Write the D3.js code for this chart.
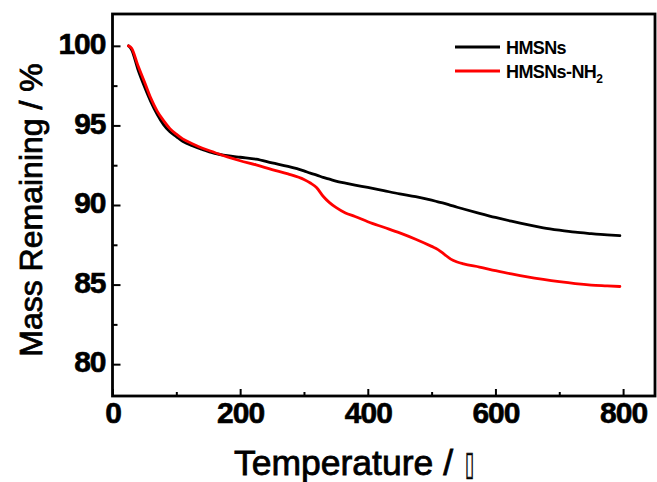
<!DOCTYPE html>
<html>
<head>
<meta charset="utf-8">
<script src="https://cdn.jsdelivr.net/npm/d3@7"></script>
<style>
  html, body { margin: 0; padding: 0; background: #fff; }
  svg { display: block; }
  text { font-family: "Liberation Sans", Arial, sans-serif; }
</style>
</head>
<body>
<svg id="chart" width="657" height="482"></svg>
<script>
// ---- data ----
const temperature = [25, 30, 40, 50, 60, 70, 80, 90, 100, 110, 125, 140, 160, 180, 200, 225, 250, 275, 300, 310, 320, 330, 340, 350, 365, 380, 400, 425, 450, 475, 500, 510, 520, 530, 540, 550, 575, 600, 625, 650, 675, 700, 725, 750, 775, 795];
const massHMSNs = [100.0, 99.75, 98.5, 97.45, 96.5, 95.7, 95.05, 94.6, 94.3, 94.0, 93.72, 93.5, 93.25, 93.1, 93.0, 92.88, 92.64, 92.42, 92.14, 92.0, 91.88, 91.74, 91.62, 91.5, 91.37, 91.25, 91.1, 90.9, 90.7, 90.52, 90.3, 90.2, 90.1, 89.98, 89.86, 89.75, 89.48, 89.22, 88.98, 88.76, 88.57, 88.42, 88.29, 88.2, 88.12, 88.07];
const massHMSNsNH2 = [100.0, 99.85, 98.75, 97.75, 96.72, 95.9, 95.3, 94.8, 94.45, 94.15, 93.85, 93.58, 93.3, 93.02, 92.78, 92.52, 92.22, 91.95, 91.6, 91.38, 91.08, 90.55, 90.15, 89.85, 89.5, 89.28, 88.95, 88.6, 88.25, 87.85, 87.4, 87.2, 86.9, 86.6, 86.42, 86.3, 86.1, 85.88, 85.67, 85.48, 85.32, 85.18, 85.06, 84.97, 84.92, 84.88];
const seriesNames = ["HMSNs", "HMSNs-NH"];
const seriesColors = ["#000000", "#ff0000"];
const xTicks = [0, 200, 400, 600, 800];
const xMinorTicks = [100, 300, 500, 700];
const yTicks = [80, 85, 90, 95, 100];
const yMinorTicks = [82.5, 87.5, 92.5, 97.5];
const xTitle = "Temperature /";
const xTitleUnit = "\u25AF";
const yTitle = "Mass Remaining / %";

// ---- layout ----
const svg = d3.select("#chart");
const plotL = 112.5, plotR = 655, plotT = 14, plotB = 396;
const x = d3.scaleLinear().domain([0, 850]).range([plotL, plotR]);
const y = d3.scaleLinear().domain([78, 102]).range([plotB, plotT]);

// curves
const series = [massHMSNs, massHMSNsNH2];
const line = d3.line()
  .x((d, i) => x(temperature[i]))
  .y(d => y(d))
  .curve(d3.curveMonotoneX);
series.forEach((vals, k) => {
  svg.append("path")
    .datum(vals)
    .attr("d", line)
    .attr("fill", "none")
    .attr("stroke", seriesColors[k])
    .attr("stroke-width", 2.8)
    .attr("stroke-linejoin", "round")
    .attr("stroke-linecap", "round");
});

// axes
const fontTick = "bold 30px 'Liberation Sans', Arial, sans-serif";
const xAxis = svg.append("g").attr("transform", `translate(0,${plotB})`)
  .call(d3.axisBottom(x).tickValues(xTicks).tickSize(-7).tickPadding(6).tickFormat(d3.format("d")));
const xMinor = svg.append("g").attr("transform", `translate(0,${plotB})`)
  .call(d3.axisBottom(x).tickValues(xMinorTicks).tickSize(-4).tickFormat(""));
const yAxis = svg.append("g").attr("transform", `translate(${plotL},0)`)
  .call(d3.axisLeft(y).tickValues(yTicks).tickSize(-8).tickPadding(7).tickFormat(d3.format("d")));
const yMinor = svg.append("g").attr("transform", `translate(${plotL},0)`)
  .call(d3.axisLeft(y).tickValues(yMinorTicks).tickSize(-5).tickFormat(""));

[xAxis, xMinor, yAxis, yMinor].forEach(g => {
  g.select(".domain").remove();
  g.selectAll(".tick line").attr("stroke", "#000").attr("stroke-width", 2);
  g.selectAll(".tick text")
    .attr("fill", "#000")
    .attr("stroke", "#000")
    .attr("stroke-width", 0.6)
    .style("font", fontTick)
    .style("letter-spacing", "-1px");
});
yAxis.selectAll(".tick text").attr("dy", "0.26em");

// frame
svg.append("rect")
  .attr("x", plotL).attr("y", plotT)
  .attr("width", plotR - plotL).attr("height", plotB - plotT)
  .attr("fill", "none").attr("stroke", "#000").attr("stroke-width", 2.8);

// axis titles
svg.append("text")
  .attr("x", 234).attr("y", 475)
  .attr("fill", "#000")
  .attr("stroke", "#000").attr("stroke-width", 0.8)
  .style("font-size", "35.5px")
  .text(xTitle);
svg.append("text")
  .attr("transform", "translate(465,475) scale(0.75,1.55)")
  .attr("fill", "#000")
  .attr("stroke", "#000").attr("stroke-width", 0.4)
  .style("font-family", "DejaVu Sans")
  .style("font-size", "22px")
  .text(xTitleUnit);

svg.append("text")
  .attr("transform", `translate(42,${(64 + 356) / 2}) rotate(-90)`)
  .attr("text-anchor", "middle")
  .attr("fill", "#000")
  .attr("stroke", "#000").attr("stroke-width", 0.8)
  .style("font-size", "32px")
  .text(yTitle);

// legend
const legX1 = 455, legX2 = 500, legY = [47, 71];
seriesNames.forEach((name, k) => {
  svg.append("line")
    .attr("x1", legX1).attr("x2", legX2)
    .attr("y1", legY[k]).attr("y2", legY[k])
    .attr("stroke", seriesColors[k]).attr("stroke-width", 2.8);
  const t = svg.append("text")
    .attr("x", 506).attr("y", legY[k] + 6.5)
    .attr("fill", "#000")
    .style("font", "bold 18px 'Liberation Sans', Arial, sans-serif")
    .style("letter-spacing", "-0.6px")
    .text(name);
  if (k === 1) {
    t.append("tspan").attr("dy", 5).style("font-size", "12px").text("2");
  }
});
</script>
</body>
</html>
